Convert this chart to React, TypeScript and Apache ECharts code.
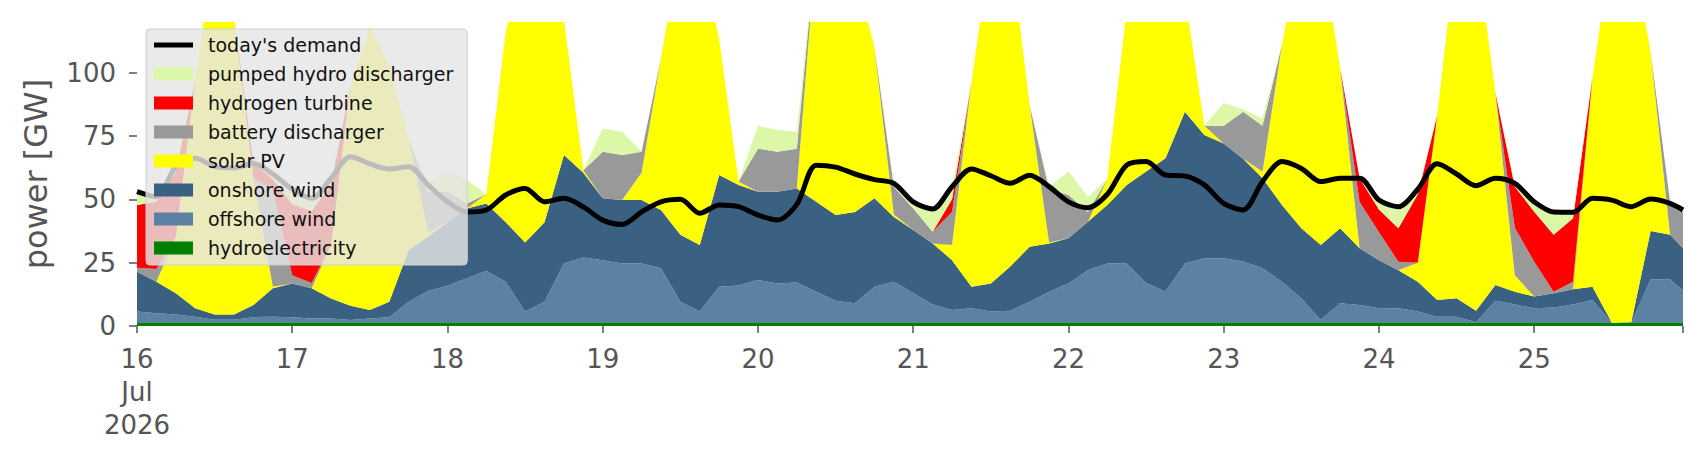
import React, { useEffect, useRef } from "react";
import * as echarts from "echarts";

// hours since 16 Jul 2026 00:00
const hours = [
  0, 3, 6, 9, 12, 15, 18, 21, 24, 27,
  30, 33, 36, 39, 42, 45, 48, 51, 54, 57,
  60, 63, 66, 69, 72, 75, 78, 81, 84, 87,
  90, 93, 96, 99, 102, 105, 108, 111, 114, 117,
  120, 123, 126, 129, 132, 135, 138, 141, 144, 147,
  150, 153, 156, 159, 162, 165, 168, 171, 174, 177,
  180, 183, 186, 189, 192, 195, 198, 201, 204, 207,
  210, 213, 216, 219, 222, 225, 228, 231, 234, 237,
  239,
];

const dayLabels = ["16\nJul\n2026", "17", "18", "19", "20", "21", "22", "23", "24", "25"];
const yTicks = [0, 25, 50, 75, 100];

const hydroelectricity = [
  1.2, 1.2, 1.2, 1.2, 1.2, 1.2, 1.2, 1.2, 1.2, 1.2,
  1.2, 1.2, 1.2, 1.2, 1.2, 1.2, 1.2, 1.2, 1.2, 1.2,
  1.2, 1.2, 1.2, 1.2, 1.2, 1.2, 1.2, 1.2, 1.2, 1.2,
  1.2, 1.2, 1.2, 1.2, 1.2, 1.2, 1.2, 1.2, 1.2, 1.2,
  1.2, 1.2, 1.2, 1.2, 1.2, 1.2, 1.2, 1.2, 1.2, 1.2,
  1.2, 1.2, 1.2, 1.2, 1.2, 1.2, 1.2, 1.2, 1.2, 1.2,
  1.2, 1.2, 1.2, 1.2, 1.2, 1.2, 1.2, 1.2, 1.2, 1.2,
  1.2, 1.2, 1.2, 1.2, 1.2, 1.2, 1.2, 1.2, 1.2, 1.2,
  1.2,
];

const offshoreWind = [
  4.5, 3.8, 3.3, 2.5, 1.3, 1.3, 2.3, 2.5, 2.3, 1.8,
  1.8, 1.2, 1.8, 2.3, 8.4, 12.6, 14.7, 17.6, 20.5, 16.3,
  4.5, 8.4, 23.5, 25.8, 24.8, 23.5, 23.5, 21.6, 8.4, 4.5,
  14.3, 14.8, 17, 15.6, 16, 12.3, 8.8, 7.8, 14.3, 16.3,
  11.8, 7.3, 5.1, 5.8, 4.5, 4.8, 8.4, 12.3, 15.6, 20.8,
  23.5, 23.5, 15.8, 12.3, 23.5, 25.5, 25.5, 24.3, 21.6, 16.3,
  9.8, 1.2, 7.8, 7.1, 5.8, 5.8, 4.5, 2.5, 2.5, 0.3,
  8.8, 7.3, 5.8, 6.1, 7.3, 9.1, 0, 0, 17.3, 17.3,
  12.8,
];

const onshoreWind = [
  15.7, 12.5, 8.4, 3.3, 2.0, 2.0, 4.8, 11.2, 13.3, 11.9,
  7.9, 5.6, 3.3, 6.1, 20.4, 21.5, 25.1, 27.6, 26.7, 23.5,
  27.3, 31.4, 42.8, 33.5, 24.4, 25, 25, 23, 26.4, 26.3,
  44.1, 39.7, 34.8, 36.2, 37.1, 35.5, 33.8, 36, 34.9, 25.5,
  24.9, 24.1, 19.7, 8.5, 11.1, 17.5, 21.7, 19.1, 17.8, 19.2,
  23.1, 31, 44, 52.7, 59.9, 48.7, 45.3, 40.5, 35.5, 30.3,
  27.6, 29.6, 29.6, 22.4, 19, 15, 11.8, 6.6, 7.3, 4.5,
  6.2, 5, 4.6, 5.6, 6, 5.2, 0.1, 0.3, 19, 17.5,
  16.7,
];

const solarPV = [
  0, 0, 22.1, 90, 145.5, 117.5, 50.2, 0.6, 0, 0,
  21.1, 87, 111.7, 93.4, 44, 1.7, 0, 0, 3.6, 75,
  117, 99, 53.5, 1, 0, 0, 10.8, 59.7, 114, 118,
  53.4, 1.3, 0, 0, 0, 101, 106.2, 95, 59.6, 1,
  0, 0, 6, 80.5, 133.2, 126.5, 55.7, 0.4, 0, 0,
  10.2, 69.3, 89, 83.8, 45.4, 3.6, 0, 0, 2.7, 63.2,
  111.4, 118, 63.1, 0, 0, 0, 7.5, 72.7, 139, 144,
  75.8, 6.5, 0, 0, 0, 82.5, 148.7, 148.5, 70.5, 0,
  0,
];

const batteryDischarger = [
  1.6, 5, 0, 0, 0, 0, 0, 38.5, 3.2, 2.1,
  0, 0, 0, 0, 0, 16, 12, 2, 0, 0,
  0, 0, 0, 0, 18.4, 17.8, 8.3, 0, 0, 0,
  0, 0, 17, 15.8, 15.7, 0, 0, 0, 0, 11,
  8.5, 4.6, 13, 0, 0, 0, 0, 21, 17.1, 3.8,
  0, 0, 0, 0, 0, 0, 7, 18.6, 18, 0,
  0, 0, 0, 18.3, 11, 3.4, 0, 0, 0, 0,
  0, 18.8, 13.8, 0.6, 3, 0, 0, 0, 0, 13,
  14.3,
];

const hydrogenTurbine = [
  24.8, 26.5, 26, 0, 0, 0, 5.5, 4, 28, 28.4,
  24, 0, 0, 0, 0, 0, 0, 0, 0, 0,
  0, 0, 0, 0, 0, 0, 0, 0, 0, 0,
  0, 0, 0, 0, 0, 0, 0, 0, 0, 0,
  0, 0, 5, 0, 0, 0, 0, 0, 0, 0,
  0, 0, 0, 0, 0, 0, 0, 0, 0, 0,
  0, 0, 0, 9.3, 9, 13.2, 27, 0, 0, 0,
  0, 16.2, 19.7, 22.5, 25, 0, 0, 0, 0, 0,
  0,
];

const pumpedHydroDischarger = [
  5.2, 2, 2, 0, 0, 0, 0.2, 2, 6, 5,
  2.3, 0, 0, 0, 0, 3, 8.6, 9.2, 0, 0,
  0, 0, 0, 0, 9.2, 9.2, 0.2, 0, 0, 0,
  0, 0, 9, 8.6, 6.7, 0, 0, 0, 0, 1.3,
  2.6, 8.6, 5, 0, 0, 0, 0, 1, 9.3, 6,
  0, 0, 0, 0, 0, 0, 9, 0.9, 3, 0,
  0, 0, 0, 0, 3.7, 8.4, 1, 0, 0, 0,
  0, 1, 3.3, 8.5, 2, 0, 0, 0, 0, 0,
  0,
];

const todaysDemand = [
  53, 51, 63, 66.2, 62.9, 62.4, 64.2, 60, 54, 50.4,
  58.3, 66.8, 64, 62, 62.9, 55.7, 49, 45, 45.8, 51.7,
  54.3, 49, 50.4, 47, 41.8, 40.1, 45, 49, 50, 44.5,
  47.8, 47.1, 43.8, 41.8, 48, 63.5, 62.7, 60, 57.8, 56.3,
  49, 46.2, 55, 62, 59.3, 56.3, 59.5, 55, 49, 46.7,
  52, 63.5, 64.9, 59.6, 59.2, 55.7, 48.4, 45.8, 57, 64.9,
  62.2, 57, 58.3, 58.3, 49.7, 47.1, 54, 64, 60, 55.4,
  58.3, 56.3, 49, 45, 44.9, 50.4, 49.7, 47.1, 50.1, 48.4,
  45.8,
];

const FONT = "DejaVu Sans";
const START = Date.UTC(2026, 6, 16, 0, 0, 0);
const HOUR = 3600 * 1000;
const DAY = 24 * HOUR;

export default function App() {
  const ref = useRef<HTMLDivElement>(null);

  useEffect(() => {
    if (!ref.current) return;
    const chart = echarts.init(ref.current, null, { renderer: "svg" });
    const ts = (h: number) => START + h * HOUR;
    const pair = (arr: number[]) => hours.map((h, i) => [ts(h), arr[i]]);

    const areas = [
      { name: "hydroelectricity", values: hydroelectricity, color: "#008000" },
      { name: "offshore wind", values: offshoreWind, color: "#5b82a3" },
      { name: "onshore wind", values: onshoreWind, color: "#3b6182" },
      { name: "solar PV", values: solarPV, color: "#ffff00" },
      { name: "battery discharger", values: batteryDischarger, color: "#999999" },
      { name: "hydrogen turbine", values: hydrogenTurbine, color: "#ff0000" },
      { name: "pumped hydro discharger", values: pumpedHydroDischarger, color: "#dcf7a7" },
    ];

    const series: any[] = areas.map((a) => ({
      name: a.name,
      type: "line",
      stack: "total",
      data: pair(a.values),
      color: a.color,
      symbol: "none",
      showSymbol: false,
      lineStyle: { width: 0, color: a.color },
      areaStyle: { color: a.color, opacity: 1 },
      clip: true,
      silent: true,
    }));

    series.push({
      name: "today's demand",
      type: "line",
      data: pair(todaysDemand),
      color: "#000000",
      symbol: "none",
      showSymbol: false,
      smooth: 0.3,
      lineStyle: { width: 5, color: "#000000" },
      z: 5,
      silent: true,
    });

    const legendOrder = [
      "today's demand",
      "pumped hydro discharger",
      "hydrogen turbine",
      "battery discharger",
      "solar PV",
      "onshore wind",
      "offshore wind",
      "hydroelectricity",
    ];
    const lineIcon =
      "path://M0,0L0.01,0L0,0.01Z M0,4L39,4L39,9L0,9Z M39,13L38.99,13L39,12.99Z";

    chart.setOption({
      animation: false,
      useUTC: true,
      backgroundColor: "#ffffff",
      grid: { left: 137, right: 23, top: 22, bottom: 134, containLabel: false },
      legend: {
        orient: "vertical",
        left: 146,
        top: 29,
        padding: [6, 14, 7, 8],
        itemWidth: 39,
        itemHeight: 13,
        itemGap: 9,
        backgroundColor: "rgba(229,229,229,0.82)",
        borderColor: "#d0d0d0",
        borderWidth: 1,
        borderRadius: 4,
        selectedMode: false,
        textStyle: {
          fontFamily: FONT,
          fontSize: 19,
          lineHeight: 20,
          color: "#111111",
          padding: [0, 0, 0, 10],
        },
        data: legendOrder.map((n) =>
          n === "today's demand" ? { name: n, icon: lineIcon } : { name: n, icon: "rect" }
        ),
        z: 10,
      },
      xAxis: {
        type: "time",
        min: ts(0),
        max: ts(239),
        minInterval: DAY,
        maxInterval: DAY,
        splitLine: { show: false },
        axisLine: { show: false },
        axisTick: {
          show: true,
          length: 7,
          lineStyle: { color: "#555555", width: 1.5 },
        },
        axisLabel: {
          formatter: (v: number) => {
            const d = (v - START) / DAY;
            const idx = Math.round(d);
            if (Math.abs(d - idx) > 1e-6) return "";
            return dayLabels[idx] ?? "";
          },
          fontFamily: FONT,
          fontSize: 26,
          lineHeight: 33,
          color: "#555555",
          margin: 16,
          hideOverlap: false,
        },
      },
      yAxis: {
        type: "value",
        min: 0,
        max: 120,
        interval: 25,
        splitLine: { show: false },
        axisLine: { show: false },
        axisTick: {
          show: true,
          length: 8,
          lineStyle: { color: "#555555", width: 1.5 },
          customValues: yTicks,
        },
        axisLabel: {
          customValues: yTicks,
          fontFamily: FONT,
          fontSize: 26,
          color: "#555555",
          margin: 21,
        },
        name: "power [GW]",
        nameLocation: "middle",
        nameGap: 85,
        nameTextStyle: { fontFamily: FONT, fontSize: 32, color: "#555555" },
      },
      series,
    });

    // small closing tick at the right end of the time axis
    const endPt = chart.convertToPixel({ gridIndex: 0 }, [ts(239), 0]) as number[];
    if (endPt && isFinite(endPt[0])) {
      chart.setOption({
        graphic: [
          {
            type: "line",
            shape: { x1: endPt[0], y1: endPt[1], x2: endPt[0], y2: endPt[1] + 7 },
            style: { stroke: "#555555", lineWidth: 1.5 },
            silent: true,
          },
        ],
      });
    }

    return () => chart.dispose();
  }, []);

  return (
    <div
      ref={ref}
      style={{ position: "fixed", left: 0, top: 0, width: 1706, height: 460, background: "#fff" }}
    />
  );
}
